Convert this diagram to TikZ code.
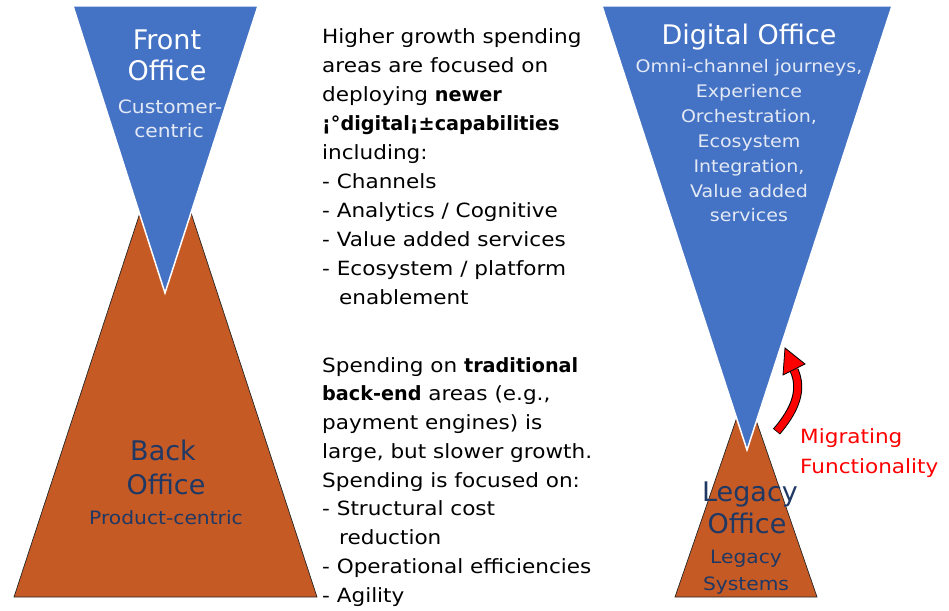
\documentclass[tikz,border=0pt]{standalone}
\usepackage{fontspec}
\setmainfont{DejaVu Sans}
\newfontfamily\gfont[FakeStretch=1.1]{DejaVu Sans}
\newfontfamily\gbold[FakeStretch=0.98]{DejaVu Sans}
\definecolor{offblue}{HTML}{4472C4}
\definecolor{offorange}{HTML}{C55A24}
\definecolor{navy}{HTML}{1F3864}
\definecolor{subw}{HTML}{E3E9F5}
\newcommand\bw[1]{{\gbold\bfseries #1}}
\begin{document}
\begin{tikzpicture}[x=1pt,y=-1pt,
  body/.style={font=\gfont\fontsize{19.6}{19.6}\selectfont, anchor=base west, inner sep=0pt},
  ttl/.style={font=\fontsize{27}{27}\selectfont, anchor=base, inner sep=0pt},
  subt/.style={font=\gfont\fontsize{18.4}{18.4}\selectfont, anchor=base, inner sep=0pt},
  subd/.style={font=\gfont\fontsize{17.3}{17.3}\selectfont, anchor=base, inner sep=0pt},
  bluetri/.style={fill=offblue, draw=white, line width=1.5pt},
  orangetri/.style={fill=offorange, draw=black!85, line width=0.7pt}]
\useasboundingbox (0,0) rectangle (949,610);

% left hourglass
\draw[orangetri] (14,597) -- (317,597) -- (165.5,135) -- cycle;
\draw[bluetri] (73,6) -- (258,6) -- (165,293) -- cycle;
% right hourglass
\draw[orangetri] (675,597) -- (817,597) -- (746,391) -- cycle;
\draw[bluetri] (602,6) -- (892,6) -- (747,450) -- cycle;

% Front office
\node[ttl, white] (fo1) at (167,49) {Front};
\node[ttl, white] (fo2) at (167,80) {Office};
\node[subt, subw] (fo3) at (170,113) {Customer-};
\node[subt, subw] (fo4) at (169,137) {centric};

% Back office
\node[ttl, navy] (bo1) at (163,460) {Back};
\node[ttl, navy] (bo2) at (166,494) {Office};
\node[subt, navy] (bo3) at (166,524) {Product-centric};

% Digital office
\node[ttl, white] (do0) at (749,45) {Digital Office};
\node[subd, subw] (do1) at (749,72.5) {Omni-channel journeys,};
\node[subd, subw] (do2) at (749,97.4) {Experience};
\node[subd, subw] (do3) at (749,122.3) {Orchestration,};
\node[subd, subw] (do4) at (749,147.2) {Ecosystem};
\node[subd, subw] (do5) at (749,172.1) {Integration,};
\node[subd, subw] (do6) at (749,197) {Value added};
\node[subd, subw] (do7) at (749,221.9) {services};

% Legacy office
\node[ttl, navy] (lo1) at (750,501.5) {Legacy};
\node[ttl, navy] (lo2) at (747,533) {Office};
\node[subt, navy] (lo3) at (746,563) {Legacy};
\node[subt, navy] (lo4) at (746,590) {Systems};

% middle text, first block
\node[body] (a1) at (322,44) {Higher growth spending};
\node[body] (a2) at (322,72.9) {areas are focused on};
\node[body] (a3) at (322,101.8) {deploying \bw{newer}};
\node[body] (a4) at (322,130.7) {\bw{¡°digital¡±capabilities}};
\node[body] (a5) at (322,159.6) {including:};
\node[body] (a6) at (322,188.5) {- Channels};
\node[body] (a7) at (322,217.4) {- Analytics / Cognitive};
\node[body] (a8) at (322,246.3) {- Value added services};
\node[body] (a9) at (322,275.2) {- Ecosystem / platform};
\node[body] (a10) at (339,304.1) {enablement};

% middle text, second block
\node[body] (b1) at (322,372) {Spending on \bw{traditional}};
\node[body] (b2) at (322,400.75) {\bw{back-end} areas (e.g.,};
\node[body] (b3) at (322,429.5) {payment engines) is};
\node[body] (b4) at (322,458.25) {large, but slower growth.};
\node[body] (b5) at (322,487) {Spending is focused on:};
\node[body] (b6) at (322,515.75) {- Structural cost};
\node[body] (b7) at (339,544.5) {reduction};
\node[body] (b8) at (322,573.25) {- Operational efficiencies};
\node[body] (b9) at (322,602) {- Agility};

% migrating arrow
\coordinate (mt) at (777,431);
\coordinate (mh) at (794,370);
\draw[line width=9pt, black, shorten <=-0.8pt] (mt) .. controls (795,410) and (803,390) .. (mh);
\draw[line width=7pt, red] (mt) .. controls (795,410) and (803,390) .. (mh);
\filldraw[fill=red, draw=black, line width=0.8pt, line join=miter] (783,375) -- (805,364) -- (785,348) -- cycle;
\node[body, red] (m1) at (800,443) {Migrating};
\node[body, red] (m2) at (800,473) {Functionality};
\end{tikzpicture}
\end{document}
